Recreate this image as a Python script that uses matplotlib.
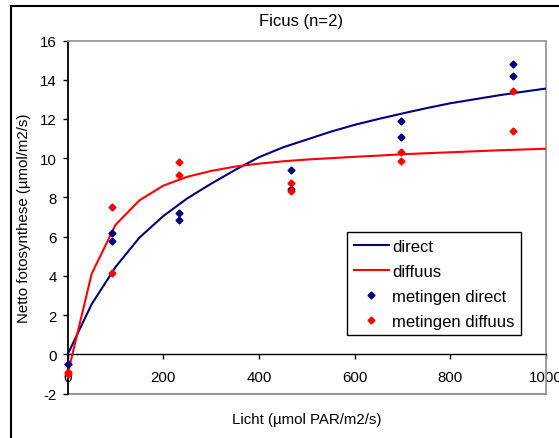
import matplotlib.pyplot as plt
from matplotlib.lines import Line2D

plt.rcParams['font.family'] = ['Liberation Sans', 'DejaVu Sans']
plt.rcParams['axes.unicode_minus'] = False

# fitted curves
curve_x = [0, 50, 100, 150, 200, 250, 300, 350, 400, 450, 500,
           550, 600, 650, 700, 750, 800, 850, 900, 950, 1000]
direct_curve = [0.0, 2.55, 4.45, 5.95, 7.05, 7.95, 8.7, 9.4, 10.05, 10.55, 10.95,
                11.35, 11.7, 12.0, 12.28, 12.55, 12.8, 13.0, 13.2, 13.38, 13.55]
diffuus_curve = [-1.0, 4.1, 6.6, 7.85, 8.6, 9.05, 9.35, 9.57, 9.72, 9.84, 9.93,
                 10.0, 10.07, 10.13, 10.2, 10.25, 10.3, 10.35, 10.4, 10.44, 10.48]

# measurements
meas_x = [0, 0, 93, 93, 233, 233, 466, 466, 697, 697, 930, 930]
meas_direct = [-0.48, -0.48, 6.2, 5.8, 7.18, 6.84, 9.42, 8.43, 11.89, 11.1, 14.78, 14.2]
meas_diffuus = [-0.9, -1.0, 7.52, 4.15, 9.78, 9.13, 8.74, 8.33, 10.3, 9.88, 13.42, 11.39]

W, H = 559, 439
fig = plt.figure(figsize=(W / 100, H / 100), dpi=100)
ax = fig.add_axes([67.7 / W, 1 - 394.5 / H, (546 - 67.7) / W, (394.5 - 41.5) / H])

navy = '#000080'
red = '#ff0000'
ax.plot(curve_x, direct_curve, color=navy, lw=1.5, label='direct', zorder=3)
ax.plot(curve_x, diffuus_curve, color=red, lw=1.5, label='diffuus', zorder=3)
ax.plot(meas_x, meas_direct, 'D', color=navy, ms=3.5, ls='none',
        label='metingen direct', clip_on=False, zorder=4)
ax.plot(meas_x, meas_diffuus, 'D', color=red, ms=3.5, ls='none',
        label='metingen diffuus', clip_on=False, zorder=4)

ax.set_xlim(0, 1000)
ax.set_ylim(-2, 16)
ax.set_xticks(range(0, 1001, 200))
ax.set_yticks(range(-2, 17, 2))

gray = '#999999'
ax.spines['bottom'].set_position(('data', 0))
ax.spines['bottom'].set_color('black')
ax.spines['left'].set_color('black')
ax.spines['top'].set_color(gray)
ax.spines['right'].set_color(gray)
for s in ax.spines.values():
    s.set_linewidth(1.3)
ax.spines['bottom'].set_linewidth(1.0)
ax.axhline(-2, color=gray, lw=1.5, clip_on=False, zorder=2)

ax.tick_params(axis='both', direction='out', length=3.5, width=1.0,
               labelsize=10.8, colors='black')
ax.tick_params(axis='x', pad=7.5)
ax.tick_params(axis='y', pad=4.5)

fig.text(301 / W, 1 - 21.7 / H, 'Ficus (n=2)', ha='center', va='center', fontsize=12)
fig.text(307 / W, 1 - 420 / H, 'Licht (µmol PAR/m2/s)', ha='center', va='center',
         fontsize=10.8)
fig.text(24 / W, 1 - 218 / H, 'Netto fotosynthese (µmol/m2/s)', ha='center',
         va='center', rotation=90, fontsize=10.8)

leg = ax.legend(loc='upper left', bbox_to_anchor=(347 / W, 1 - 233 / H),
                bbox_transform=fig.transFigure, fontsize=12, frameon=True,
                fancybox=False, edgecolor='black', framealpha=1,
                borderpad=0.4, labelspacing=0.6, handlelength=2.1,
                handletextpad=0.2, borderaxespad=0)
leg.get_frame().set_linewidth(1.0)

# outer chart border (partly cut off at the edges)
fig.add_artist(Line2D([11 / W, 11 / W], [0, 1 - 7 / H], color='black', lw=1.5,
                      transform=fig.transFigure))
fig.add_artist(Line2D([11 / W, 1], [1 - 7 / H, 1 - 7 / H], color='black', lw=1.5,
                      transform=fig.transFigure))

fig.savefig('out.png', dpi=100)
